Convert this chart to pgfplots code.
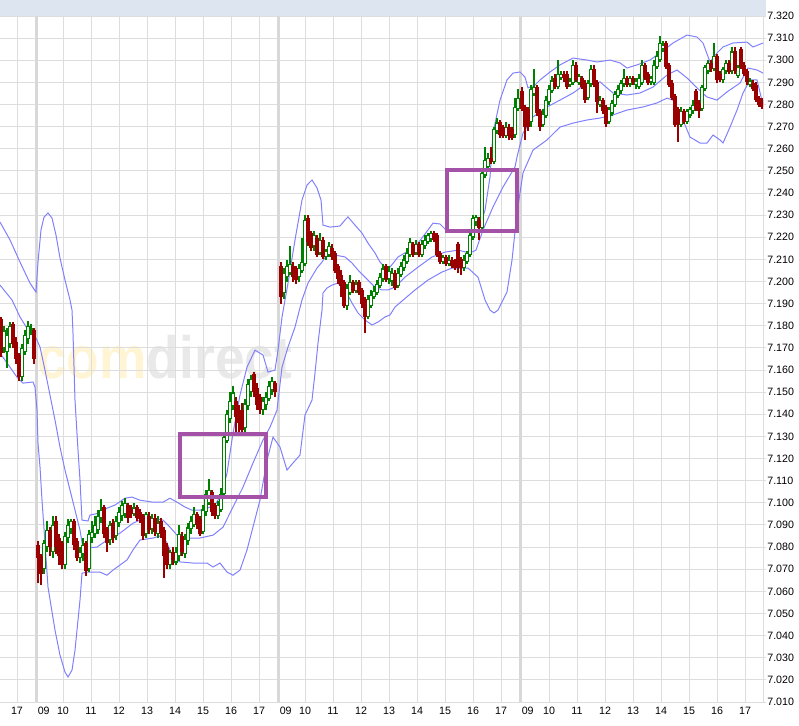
\documentclass[border=0pt]{standalone}
\usepackage{graphicx}
\usepackage{pgfplots}
\usepackage{pgfplotstable}
\pgfplotsset{compat=1.18}
\usepackage{fontspec}
\setmainfont{Liberation Sans}

\definecolor{cgreen}{RGB}{0,128,0}
\definecolor{cred}{RGB}{153,0,0}
\definecolor{band}{RGB}{128,128,255}
\definecolor{gridc}{RGB}{221,221,221}
\definecolor{sepc}{RGB}{216,216,216}
\definecolor{headc}{RGB}{221,230,240}
\definecolor{boxc}{RGB}{163,82,168}
\definecolor{wmy}{RGB}{255,245,212}
\definecolor{wmg}{RGB}{233,233,233}

% candles: x position (px), open, high, low, close
\pgfplotstableread{
x o h l c
1 7.183 7.184 7.166 7.168
4 7.170 7.180 7.168 7.178
7 7.168 7.179 7.161 7.176
10 7.172 7.182 7.170 7.180
13 7.181 7.182 7.170 7.172
16 7.173 7.175 7.163 7.165
19 7.167 7.168 7.155 7.157
22 7.157 7.172 7.155 7.170
25 7.168 7.178 7.167 7.176
28 7.174 7.182 7.172 7.180
31 7.178 7.181 7.176 7.179
34 7.178 7.179 7.163 7.165
38 7.081 7.083 7.064 7.075
41 7.076 7.077 7.063 7.068
44 7.070 7.083 7.068 7.082
47 7.080 7.092 7.078 7.088
50 7.088 7.089 7.076 7.080
53 7.078 7.094 7.075 7.090
56 7.092 7.094 7.077 7.080
59 7.084 7.086 7.072 7.076
62 7.082 7.083 7.070 7.072
65 7.072 7.087 7.070 7.085
68 7.084 7.093 7.082 7.090
71 7.088 7.093 7.086 7.092
74 7.092 7.093 7.079 7.081
77 7.083 7.084 7.074 7.075
80 7.075 7.080 7.073 7.078
83 7.077 7.084 7.074 7.081
86 7.082 7.083 7.067 7.069
89 7.070 7.088 7.069 7.086
92 7.084 7.092 7.082 7.087
95 7.086 7.094 7.084 7.090
98 7.088 7.097 7.086 7.094
101 7.093 7.102 7.091 7.097
104 7.098 7.099 7.084 7.086
107 7.088 7.089 7.078 7.082
110 7.083 7.092 7.081 7.090
113 7.091 7.093 7.082 7.084
116 7.085 7.094 7.083 7.092
119 7.091 7.098 7.089 7.096
122 7.094 7.101 7.092 7.099
125 7.095 7.102 7.093 7.100
128 7.099 7.100 7.091 7.093
131 7.097 7.099 7.093 7.095
134 7.095 7.100 7.094 7.098
137 7.098 7.099 7.092 7.093
140 7.096 7.097 7.091 7.093
143 7.094 7.095 7.083 7.085
146 7.086 7.096 7.084 7.095
149 7.094 7.096 7.086 7.088
152 7.088 7.095 7.086 7.093
155 7.093 7.095 7.085 7.087
158 7.086 7.094 7.084 7.091
161 7.092 7.093 7.084 7.086
164 7.088 7.089 7.066 7.076
167 7.080 7.082 7.070 7.072
170 7.072 7.079 7.070 7.078
173 7.078 7.080 7.072 7.074
176 7.073 7.080 7.072 7.078
179 7.076 7.090 7.074 7.086
182 7.085 7.087 7.076 7.078
185 7.077 7.086 7.075 7.084
188 7.083 7.091 7.081 7.089
191 7.088 7.094 7.086 7.092
194 7.090 7.098 7.089 7.095
197 7.095 7.096 7.088 7.090
200 7.093 7.094 7.085 7.086
203 7.087 7.099 7.086 7.097
206 7.096 7.106 7.094 7.104
209 7.100 7.111 7.099 7.106
212 7.105 7.106 7.094 7.096
215 7.099 7.100 7.093 7.094
218 7.094 7.101 7.093 7.099
221 7.097 7.107 7.096 7.104
224 7.104 7.131 7.103 7.130
227 7.128 7.142 7.127 7.140
230 7.138 7.150 7.136 7.146
233 7.144 7.153 7.142 7.150
236 7.146 7.148 7.132 7.139
239 7.142 7.144 7.130 7.136
242 7.142 7.145 7.130 7.133
245 7.134 7.147 7.132 7.145
248 7.144 7.156 7.142 7.154
251 7.150 7.158 7.148 7.156
254 7.158 7.159 7.148 7.150
257 7.152 7.154 7.142 7.144
260 7.148 7.149 7.140 7.142
263 7.142 7.148 7.140 7.146
266 7.144 7.150 7.142 7.148
269 7.147 7.155 7.146 7.153
272 7.151 7.157 7.149 7.155
275 7.154 7.155 7.148 7.150
281 7.207 7.209 7.190 7.193
284 7.195 7.206 7.192 7.204
287 7.202 7.210 7.200 7.207
290 7.204 7.216 7.203 7.208
293 7.207 7.209 7.200 7.202
296 7.206 7.207 7.199 7.201
299 7.202 7.208 7.200 7.206
302 7.205 7.220 7.204 7.209
305 7.208 7.230 7.207 7.228
308 7.229 7.230 7.216 7.218
311 7.222 7.223 7.214 7.215
314 7.216 7.223 7.214 7.221
317 7.220 7.221 7.211 7.212
320 7.213 7.222 7.212 7.219
323 7.219 7.220 7.210 7.211
326 7.211 7.215 7.210 7.214
329 7.212 7.218 7.211 7.216
332 7.215 7.217 7.210 7.211
335 7.213 7.214 7.204 7.205
338 7.207 7.208 7.199 7.201
341 7.203 7.205 7.193 7.198
344 7.200 7.201 7.188 7.189
347 7.189 7.199 7.187 7.197
350 7.195 7.203 7.194 7.200
353 7.200 7.201 7.195 7.196
356 7.196 7.201 7.195 7.199
359 7.200 7.201 7.194 7.195
362 7.196 7.197 7.188 7.190
365 7.192 7.193 7.177 7.184
368 7.184 7.194 7.183 7.192
371 7.189 7.196 7.188 7.194
374 7.193 7.198 7.192 7.196
377 7.195 7.201 7.194 7.199
380 7.198 7.204 7.197 7.202
383 7.201 7.208 7.200 7.206
386 7.207 7.208 7.200 7.201
389 7.201 7.207 7.199 7.205
392 7.200 7.206 7.198 7.204
395 7.204 7.205 7.196 7.197
398 7.198 7.206 7.197 7.204
401 7.203 7.209 7.202 7.207
404 7.206 7.212 7.205 7.210
407 7.209 7.215 7.208 7.213
410 7.212 7.220 7.211 7.218
413 7.217 7.218 7.211 7.212
416 7.213 7.219 7.212 7.217
419 7.217 7.218 7.211 7.212
422 7.212 7.219 7.211 7.217
425 7.216 7.221 7.215 7.219
428 7.218 7.222 7.217 7.221
431 7.219 7.223 7.218 7.222
434 7.222 7.223 7.218 7.219
437 7.221 7.222 7.211 7.212
440 7.213 7.214 7.208 7.209
443 7.209 7.212 7.208 7.211
446 7.211 7.212 7.207 7.208
449 7.208 7.212 7.207 7.210
452 7.210 7.211 7.206 7.207
455 7.209 7.210 7.205 7.206
458 7.217 7.218 7.204 7.206
461 7.210 7.211 7.203 7.206
464 7.206 7.212 7.205 7.210
467 7.209 7.214 7.208 7.213
470 7.212 7.222 7.211 7.221
473 7.220 7.230 7.219 7.229
476 7.227 7.230 7.225 7.229
479 7.228 7.229 7.219 7.224
482 7.224 7.250 7.223 7.249
485 7.248 7.261 7.247 7.255
488 7.252 7.258 7.251 7.256
491 7.256 7.261 7.253 7.254
494 7.254 7.270 7.253 7.269
497 7.268 7.274 7.267 7.272
500 7.272 7.273 7.265 7.266
503 7.270 7.271 7.265 7.266
506 7.266 7.272 7.265 7.270
509 7.270 7.271 7.264 7.266
512 7.269 7.270 7.264 7.265
515 7.266 7.283 7.265 7.279
518 7.278 7.287 7.277 7.283
522 7.286 7.288 7.277 7.278
525 7.279 7.280 7.264 7.270
528 7.278 7.279 7.268 7.270
531 7.272 7.289 7.270 7.287
534 7.285 7.296 7.284 7.288
537 7.288 7.289 7.275 7.276
540 7.277 7.278 7.268 7.270
543 7.271 7.278 7.270 7.276
546 7.275 7.284 7.274 7.282
549 7.281 7.289 7.280 7.287
552 7.286 7.293 7.285 7.291
555 7.292 7.294 7.287 7.288
558 7.288 7.300 7.287 7.294
561 7.292 7.295 7.291 7.294
564 7.294 7.295 7.290 7.292
567 7.294 7.295 7.287 7.288
570 7.289 7.292 7.288 7.291
573 7.290 7.300 7.289 7.298
576 7.298 7.299 7.290 7.291
579 7.290 7.294 7.289 7.293
582 7.292 7.293 7.287 7.288
585 7.290 7.291 7.281 7.282
588 7.283 7.291 7.282 7.290
591 7.289 7.298 7.288 7.296
594 7.296 7.298 7.288 7.289
597 7.290 7.291 7.276 7.281
600 7.280 7.284 7.279 7.282
603 7.282 7.283 7.276 7.277
606 7.279 7.280 7.270 7.271
609 7.272 7.279 7.271 7.278
612 7.276 7.282 7.275 7.281
615 7.280 7.286 7.279 7.285
618 7.284 7.289 7.283 7.287
621 7.286 7.291 7.285 7.290
624 7.289 7.296 7.288 7.292
627 7.292 7.293 7.288 7.289
630 7.289 7.293 7.288 7.292
633 7.292 7.293 7.289 7.290
636 7.289 7.292 7.287 7.291
639 7.288 7.294 7.287 7.292
642 7.290 7.300 7.289 7.298
645 7.298 7.299 7.291 7.292
648 7.294 7.295 7.289 7.290
651 7.290 7.293 7.289 7.292
654 7.290 7.300 7.289 7.298
657 7.297 7.304 7.296 7.302
660 7.300 7.311 7.299 7.308
663 7.305 7.309 7.304 7.307
666 7.308 7.309 7.296 7.297
669 7.298 7.299 7.288 7.289
672 7.290 7.291 7.282 7.283
675 7.284 7.285 7.270 7.271
678 7.278 7.279 7.263 7.271
681 7.271 7.279 7.270 7.277
684 7.277 7.278 7.271 7.272
687 7.272 7.278 7.271 7.277
690 7.275 7.279 7.274 7.278
693 7.277 7.282 7.276 7.280
696 7.286 7.287 7.277 7.278
699 7.281 7.282 7.274 7.277
702 7.278 7.289 7.277 7.288
705 7.287 7.298 7.286 7.297
708 7.295 7.300 7.294 7.299
711 7.299 7.300 7.295 7.296
714 7.296 7.308 7.295 7.302
717 7.302 7.303 7.290 7.291
720 7.294 7.295 7.290 7.291
723 7.291 7.297 7.290 7.296
726 7.295 7.300 7.294 7.299
729 7.299 7.300 7.294 7.295
732 7.295 7.306 7.294 7.304
735 7.304 7.306 7.294 7.295
738 7.293 7.298 7.292 7.297
741 7.305 7.306 7.296 7.297
744 7.298 7.299 7.293 7.294
747 7.295 7.296 7.289 7.290
750 7.289 7.292 7.288 7.291
753 7.290 7.291 7.286 7.287
756 7.289 7.290 7.281 7.282
759 7.283 7.284 7.279 7.280
762 7.282 7.283 7.278 7.279
}\candles

\begin{document}
\begin{tikzpicture}
\useasboundingbox (0,0) rectangle (599.25pt,-543.75pt);
\fill[headc] (0,0) rectangle (574.5pt,-12pt);
\node[anchor=base west, inner sep=0pt, font=\fontsize{40}{40}\selectfont\bfseries]
  at (27.75pt,-283.5pt) {\scalebox{1}[1.12]{\textcolor{wmy}{com}\textcolor{wmg}{direct}}};
\begin{axis}[
  at={(0pt,-12pt)}, anchor=north west,
  scale only axis, width=572.25pt, height=514.5pt,
  xmin=0, xmax=763, ymin=7.010, ymax=7.320,
  axis x line*=bottom, axis y line*=right,
  axis line style={draw=gridc, line width=0.75pt, -},
  xmajorgrids, ymajorgrids,
  major grid style={draw=gridc, line width=0.75pt},
  tick align=outside, major tick length=2.25pt,
  xtick style={draw=none},
  ytick style={draw=gridc, line width=0.75pt},
  xtick={17,36,63,91,119,147,175,203,231,259,278,305,333,361,389,417,445,473,501,520,549,577,605,633,661,689,717,745},
  xticklabels={17,\makebox[0pt][l]{\,09},10,11,12,13,14,15,16,17,\makebox[0pt][l]{\,09},10,11,12,13,14,15,16,17,\makebox[0pt][l]{\,09},10,11,12,13,14,15,16,17},
  ytick={7.01,7.02,7.03,7.04,7.05,7.06,7.07,7.08,7.09,7.10,7.11,7.12,7.13,7.14,7.15,7.16,7.17,7.18,7.19,7.20,7.21,7.22,7.23,7.24,7.25,7.26,7.27,7.28,7.29,7.30,7.31,7.32},
  yticklabel={\pgfmathprintnumber[fixed,fixed zerofill,precision=3,assume math mode=true]{\tick}},
  ticklabel style={font=\fontsize{8}{10}\selectfont},
  yticklabel style={anchor=west, inner sep=0pt, xshift=0.8pt},
  xticklabel style={anchor=north, inner sep=0pt, yshift=-1.5pt},
  clip=true,
]
% day separators
\draw[sepc, line width=2.25pt] (axis cs:36,7.010) -- (axis cs:36,7.320);
\draw[sepc, line width=2.25pt] (axis cs:278,7.010) -- (axis cs:278,7.320);
\draw[sepc, line width=2.25pt] (axis cs:520,7.010) -- (axis cs:520,7.320);

% Bollinger bands
\addplot[band, line width=0.75pt] coordinates {
(0,7.2269) (10,7.2188) (20,7.2088) (30,7.1993) (36,7.1952) (38,7.2088) (41,7.2233)
(44,7.2291) (48,7.2310) (52,7.2287) (56,7.2210) (60,7.2106) (65,7.2007) (70,7.1917)
(72,7.1871) (73,7.1767) (75,7.1464) (78,7.1238) (80,7.1103) (82,7.0922) (88,7.0918)
(90,7.0945) (100,7.0954) (107,7.0976) (115,7.0990) (125,7.1021) (132,7.1026) (140,7.1012)
(153,7.1003) (163,7.1003) (170,7.1021) (177,7.1003) (185,7.0981) (192,7.0967) (200,7.0967)
(207,7.0976) (215,7.0990) (222,7.1044) (227,7.1134) (233,7.1315) (240,7.1487) (247,7.1613)
(255,7.1690) (263,7.1668) (268,7.1591) (275,7.1600) (278,7.1690) (282,7.1839) (288,7.1993)
(295,7.2188) (302,7.2368) (307,7.2436) (312,7.2459) (317,7.2423) (321,7.2368) (323,7.2255)
(330,7.2246) (340,7.2251) (345,7.2278) (348,7.2292) (355,7.2255) (362,7.2219) (368,7.2174)
(375,7.2129) (380,7.2088) (385,7.2065) (390,7.2065) (398,7.2111) (415,7.2156) (428,7.2233)
(433,7.2264) (440,7.2260) (446,7.2233) (460,7.2228) (478,7.2224) (485,7.2323) (490,7.2472)
(493,7.2671) (500,7.2820) (507,7.2911) (513,7.2942) (520,7.2947) (525,7.2924) (528,7.2875)
(535,7.2888) (540,7.2911) (550,7.2947) (560,7.2979) (573,7.3010) (587,7.3001) (597,7.2992)
(610,7.3001) (620,7.2988) (627,7.2965) (637,7.2979) (650,7.3001) (660,7.3033) (673,7.3078)
(687,7.3114) (697,7.3105) (703,7.3078) (710,7.2992) (717,7.3033) (723,7.3060) (733,7.3078)
(747,7.3082) (753,7.3060) (763,7.3078)
};
\addplot[band, line width=0.75pt] coordinates {
(0,7.1984) (12,7.1917) (20,7.1840) (30,7.1767) (36,7.1745) (40,7.1704) (45,7.1600)
(50,7.1487) (55,7.1374) (60,7.1252) (65,7.1148) (70,7.1058) (75,7.0967) (80,7.0877)
(83,7.0795) (97,7.0800) (110,7.0841) (120,7.0863) (133,7.0908) (140,7.0922) (150,7.0931)
(163,7.0922) (170,7.0890) (177,7.0854) (187,7.0841) (200,7.0841) (213,7.0854) (223,7.0890)
(233,7.0981) (243,7.1071) (253,7.1180) (263,7.1284) (270,7.1342) (277,7.1419) (282,7.1613)
(288,7.1704) (295,7.1794) (302,7.1917) (308,7.1993) (317,7.2061) (322,7.2088) (328,7.2129)
(335,7.2120) (345,7.2111) (352,7.2084) (358,7.2052) (365,7.2020) (375,7.1975) (382,7.1962)
(388,7.1962) (395,7.1975) (405,7.2020) (418,7.2065) (432,7.2111) (445,7.2133) (458,7.2142)
(470,7.2129) (476,7.2142) (483,7.2233) (493,7.2337) (503,7.2427) (515,7.2518) (517,7.2563)
(523,7.2671) (533,7.2744) (547,7.2789) (560,7.2820) (573,7.2852) (587,7.2897) (600,7.2902)
(613,7.2852) (627,7.2843) (640,7.2852) (653,7.2879) (667,7.2933) (677,7.2956) (687,7.2920)
(697,7.2875) (707,7.2834) (717,7.2820) (727,7.2857) (740,7.2897) (748,7.2965) (757,7.2956)
(763,7.2942)
};
\addplot[band, line width=0.75pt] coordinates {
(0,7.1677) (17,7.1568) (23,7.1541) (33,7.1546) (35,7.1523) (37,7.1419) (38,7.1270)
(40,7.1162) (42,7.1013) (45,7.0818) (48,7.0619) (55,7.0425) (60,7.0312) (65,7.0235)
(68,7.0213) (72,7.0244) (75,7.0334) (78,7.0470) (80,7.0560) (82,7.0682) (87,7.0687)
(100,7.0687) (107,7.0673) (113,7.0696) (127,7.0742) (133,7.0787) (140,7.0832) (153,7.0841)
(163,7.0854) (167,7.0818) (173,7.0755) (180,7.0733) (193,7.0728) (207,7.0728) (213,7.0710)
(220,7.0728) (227,7.0687) (233,7.0673) (240,7.0696) (247,7.0787) (253,7.0891) (260,7.1013)
(267,7.1193) (273,7.1297) (280,7.1252) (287,7.1148) (293,7.1180) (300,7.1216) (305,7.1397)
(312,7.1464) (315,7.1586) (318,7.1722) (322,7.1871) (323,7.1948) (327,7.1971) (332,7.1984)
(338,7.1993) (345,7.1962) (352,7.1903) (358,7.1858) (365,7.1826) (372,7.1804) (378,7.1817)
(385,7.1840) (390,7.1849) (395,7.1885) (415,7.1962) (428,7.2007) (442,7.2043) (452,7.2061)
(468,7.2061) (478,7.2020) (485,7.1917) (490,7.1871) (494,7.1858) (498,7.1871) (503,7.1917)
(507,7.1953) (512,7.2097) (517,7.2310) (523,7.2491) (533,7.2594) (547,7.2640) (560,7.2698)
(573,7.2716) (587,7.2730) (600,7.2739) (613,7.2753) (627,7.2775) (643,7.2789) (657,7.2807)
(667,7.2829) (673,7.2820) (680,7.2762) (690,7.2653) (700,7.2626) (707,7.2626) (713,7.2662)
(720,7.2640) (723,7.2626) (730,7.2698) (737,7.2775) (743,7.2852) (750,7.2911) (757,7.2911)
(763,7.2798)
};

% wicks
\addplot[draw=none, mark=none, forget plot,
  restrict expr to domain={\thisrow{c}-\thisrow{o}}{0:1},
  error bars/.cd, y dir=both, y explicit, error mark=none,
  error bar style={draw=cgreen, line width=0.9pt}]
  table[x=x, y expr={(\thisrow{h}+\thisrow{l})/2}, y error expr={(\thisrow{h}-\thisrow{l})/2}] {\candles};
\addplot[draw=none, mark=none, forget plot,
  restrict expr to domain={\thisrow{c}-\thisrow{o}}{-1:0},
  error bars/.cd, y dir=both, y explicit, error mark=none,
  error bar style={draw=cred, line width=0.9pt}]
  table[x=x, y expr={(\thisrow{h}+\thisrow{l})/2}, y error expr={(\thisrow{h}-\thisrow{l})/2}] {\candles};
% green bodies (hollow)
\addplot[draw=none, mark=none, forget plot,
  restrict expr to domain={\thisrow{c}-\thisrow{o}}{0:1},
  error bars/.cd, y dir=both, y explicit, error mark=none,
  error bar style={draw=cgreen, line width=2.6pt}]
  table[x=x, y expr={(\thisrow{o}+\thisrow{c})/2}, y error expr={max(abs(\thisrow{c}-\thisrow{o})/2,0.0003)}] {\candles};
\addplot[draw=none, mark=none, forget plot,
  restrict expr to domain={\thisrow{c}-\thisrow{o}}{0:1},
  error bars/.cd, y dir=both, y explicit, error mark=none,
  error bar style={draw=white, line width=0.9pt}]
  table[x=x, y expr={(\thisrow{o}+\thisrow{c})/2}, y error expr={max(abs(\thisrow{c}-\thisrow{o})/2-0.0005,0)}] {\candles};
% red bodies (filled)
\addplot[draw=none, mark=none, forget plot,
  restrict expr to domain={\thisrow{c}-\thisrow{o}}{-1:-0.0001},
  error bars/.cd, y dir=both, y explicit, error mark=none,
  error bar style={draw=cred, line width=2.6pt}]
  table[x=x, y expr={(\thisrow{o}+\thisrow{c})/2}, y error expr={max(abs(\thisrow{c}-\thisrow{o})/2,0.0003)}] {\candles};

% marked areas
\draw[boxc, line width=3pt] (axis cs:180,7.1312) rectangle (axis cs:266,7.1027);
\draw[boxc, line width=3pt] (axis cs:447,7.2504) rectangle (axis cs:517,7.2228);
\end{axis}
\end{tikzpicture}
\end{document}
